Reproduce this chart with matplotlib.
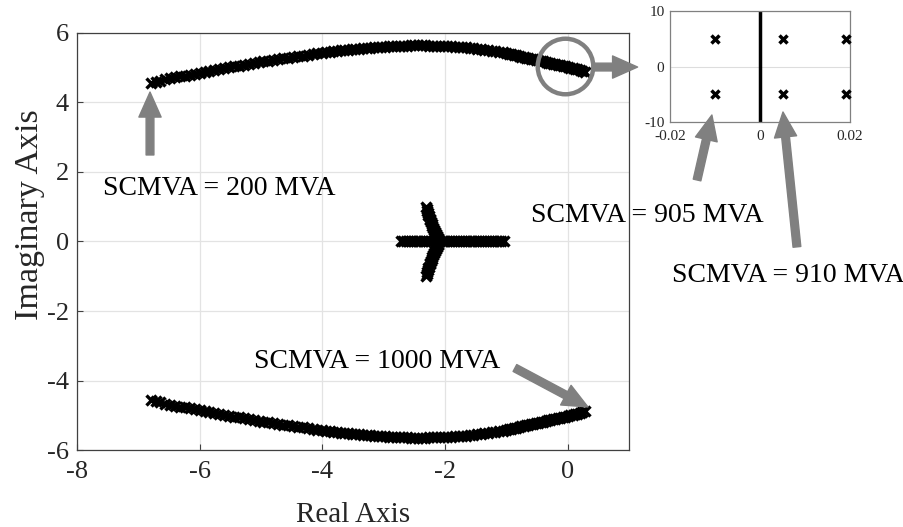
import matplotlib
matplotlib.use("Agg")
import matplotlib.pyplot as plt

plt.rcParams['font.family'] = ['Liberation Serif', 'DejaVu Serif']
plt.rcParams['axes.unicode_minus'] = False

# Dominant pole pair (upper branch; the lower branch is its conjugate)
upper_real = [
    -6.80, -6.72, -6.64, -6.56, -6.48, -6.40, -6.32, -6.24, -6.16, -6.08,
    -6.00, -5.92, -5.84, -5.76, -5.68, -5.60, -5.52, -5.44, -5.36, -5.28,
    -5.20, -5.12, -5.04, -4.96, -4.88, -4.80, -4.72, -4.64, -4.56, -4.48,
    -4.40, -4.32, -4.24, -4.16, -4.08,
    -4.00, -3.94, -3.88, -3.82, -3.76, -3.70, -3.64, -3.58, -3.52, -3.46,
    -3.40, -3.34, -3.28, -3.22, -3.16, -3.10, -3.04, -2.98, -2.92, -2.86,
    -2.80, -2.74, -2.68, -2.62, -2.56, -2.50, -2.44, -2.38, -2.32, -2.26,
    -2.20, -2.14, -2.08, -2.02, -1.96, -1.90, -1.84, -1.78, -1.72, -1.66,
    -1.60, -1.54, -1.48, -1.42, -1.36, -1.30, -1.24, -1.18, -1.12, -1.06,
    -1.00, -0.96, -0.92, -0.88, -0.84, -0.80, -0.76, -0.72, -0.68, -0.64,
    -0.60, -0.56, -0.52, -0.48, -0.44, -0.40, -0.36, -0.32, -0.28, -0.24,
    -0.20, -0.16, -0.12, -0.08, -0.04, 0.00, 0.04, 0.08, 0.12, 0.16,
    0.20, 0.24, 0.28,
]
upper_imag = [
    4.57, 4.60, 4.63, 4.67, 4.70, 4.72, 4.75, 4.77, 4.80, 4.83,
    4.86, 4.89, 4.91, 4.94, 4.96, 4.99, 5.01, 5.04, 5.06, 5.09,
    5.11, 5.13, 5.16, 5.18, 5.20, 5.23, 5.25, 5.27, 5.29, 5.31,
    5.33, 5.35, 5.37, 5.39, 5.41,
    5.43, 5.44, 5.46, 5.47, 5.49, 5.50, 5.51, 5.52, 5.54, 5.55,
    5.55, 5.56, 5.57, 5.58, 5.59, 5.60, 5.60, 5.61, 5.62, 5.62,
    5.63, 5.63, 5.64, 5.64, 5.65, 5.65, 5.65, 5.65, 5.65, 5.64,
    5.64, 5.64, 5.64, 5.64, 5.63, 5.62, 5.61, 5.60, 5.60, 5.59,
    5.58, 5.57, 5.55, 5.54, 5.52, 5.50, 5.49, 5.47, 5.45, 5.44,
    5.42, 5.40, 5.39, 5.37, 5.36, 5.34, 5.32, 5.31, 5.29, 5.28,
    5.26, 5.24, 5.23, 5.21, 5.20, 5.18, 5.16, 5.15, 5.13, 5.12,
    5.10, 5.08, 5.07, 5.05, 5.04, 5.02, 5.00, 4.98, 4.96, 4.95,
    4.93, 4.91, 4.89,
]

# Real-axis poles
axis_real = [
    -2.72, -2.68, -2.64, -2.60, -2.56, -2.52, -2.48, -2.44, -2.40, -2.36,
    -2.32, -2.28, -2.24, -2.20, -2.16, -2.12, -2.08, -2.04, -2.00, -1.96,
    -1.92, -1.88, -1.84, -1.80, -1.76, -1.72, -1.68, -1.64, -1.60, -1.56,
    -1.52, -1.48, -1.44, -1.40, -1.36, -1.32, -1.28, -1.24, -1.20, -1.16,
    -1.12, -1.08, -1.04,
]
axis_imag = [0.0] * len(axis_real)

# Small complex branch near -2.2 (upper half; lower half is its conjugate)
branch_real = [-2.31, -2.30, -2.29, -2.28, -2.27, -2.26, -2.25, -2.24, -2.23,
               -2.22, -2.21, -2.20, -2.18, -2.16, -2.15, -2.13, -2.12, -2.11]
branch_imag = [0.99, 0.94, 0.88, 0.83, 0.77, 0.72, 0.66, 0.61, 0.55,
               0.50, 0.44, 0.39, 0.33, 0.28, 0.22, 0.17, 0.11, 0.06]

# Zoomed view of the imaginary-axis crossing
zoom_real = [-0.010, 0.005, 0.019]
zoom_imag = [5.0, 5.0, 5.0]

x_ticks = [-8, -6, -4, -2, 0]
y_ticks = [-6, -4, -2, 0, 2, 4, 6]
zoom_x_ticks = [-0.02, 0, 0.02]
zoom_x_labels = ['-0.02', '0', '0.02']
zoom_y_ticks = [-10, 0, 10]

GRAY = '#808080'
FRAME = '#404040'
TEXT = '#262626'

fig = plt.figure(figsize=(9.04, 5.27), dpi=100)
ax = fig.add_axes([0.0852, 0.1461, 0.6106, 0.7913])

mk = dict(linestyle='none', marker='x', color='black', markersize=7,
          markeredgewidth=2.4, zorder=3)
ax.plot(upper_real, upper_imag, **mk)
ax.plot(upper_real, [-v for v in upper_imag], **mk)
ax.plot(axis_real, axis_imag, **mk)
ax.plot(branch_real, branch_imag, **mk)
ax.plot(branch_real, [-v for v in branch_imag], **mk)

ax.set_xlim(-8, 1)
ax.set_ylim(-6, 6)
ax.set_xticks(x_ticks)
ax.set_xticklabels([str(t) for t in x_ticks])
ax.set_yticks(y_ticks)
ax.set_yticklabels([str(t) for t in y_ticks])
ax.grid(True, color='#e3e3e3', linewidth=0.9)
ax.set_axisbelow(True)
ax.tick_params(direction='in', length=4, width=0.8, labelsize=19,
               colors=FRAME, labelcolor=TEXT)
ax.tick_params(axis='x', pad=8)
ax.tick_params(axis='y', pad=6)
for s in ax.spines.values():
    s.set_color(FRAME)
    s.set_linewidth(0.9)
ax.set_xlabel('Real Axis', fontsize=21, color=TEXT)
ax.set_ylabel('Imaginary Axis', fontsize=24.5, color=TEXT)
ax.xaxis.set_label_coords(0.5, -0.125)
ax.yaxis.set_label_coords(-0.058, 0.564)

arrow = dict(arrowstyle='simple,head_length=0.9,head_width=0.8,tail_width=0.28',
             mutation_scale=20, color=GRAY, shrinkA=0, shrinkB=0)

# SCMVA = 200 MVA
ax.annotate('', xy=(-6.81, 4.30), xytext=(-6.81, 2.49), arrowprops=arrow)
ax.text(-7.58, 1.34, 'SCMVA = 200 MVA', fontsize=20, va='baseline', ha='left')

# SCMVA = 1000 MVA
ax.annotate('', xy=(0.33, -4.76), xytext=(-0.86, -3.64), arrowprops=arrow)
ax.text(-1.10, -3.65, 'SCMVA = 1000 MVA', fontsize=20, va='baseline', ha='right')

# SCMVA = 905 MVA
ax.text(-0.59, 0.56, 'SCMVA = 905 MVA', fontsize=20, va='baseline', ha='left')
# SCMVA = 910 MVA
ax.text(1.70, -1.17, 'SCMVA = 910 MVA', fontsize=20, va='baseline', ha='left',
        clip_on=False)

# Circle around the crossing and pointer to the zoomed view
ax.plot([-0.05], [5.05], linestyle='none', marker='o', markersize=40,
        markerfacecolor='none', markeredgecolor=GRAY, markeredgewidth=3.2,
        zorder=4, clip_on=False)
ax.annotate('', xy=(1.14, 5.02), xytext=(0.41, 5.02), arrowprops=arrow,
            annotation_clip=False)

# Inset
axi = fig.add_axes([0.7412, 0.7685, 0.1991, 0.2106])
axi.axvline(0, color='black', linewidth=2.5, zorder=2)
mk_in = dict(linestyle='none', marker='x', color='black', markersize=5.5,
             markeredgewidth=2.5, zorder=3, clip_on=False)
axi.plot(zoom_real, zoom_imag, **mk_in)
axi.plot(zoom_real, [-v for v in zoom_imag], **mk_in)
axi.set_xlim(-0.02, 0.02)
axi.set_ylim(-10, 10)
axi.set_xticks(zoom_x_ticks)
axi.set_xticklabels(zoom_x_labels)
axi.set_yticks(zoom_y_ticks)
axi.set_yticklabels([str(t) for t in zoom_y_ticks])
axi.grid(True, color='#dddddd', linewidth=0.8)
axi.set_axisbelow(True)
axi.tick_params(direction='in', length=0, labelsize=11, labelcolor=TEXT)
axi.tick_params(axis='x', pad=6)
axi.tick_params(axis='y', pad=4)
for s in axi.spines.values():
    s.set_color(GRAY)
    s.set_linewidth(0.9)

axi.annotate('', xy=(-0.0107, -8.74), xytext=(-0.014, -20.45), arrowprops=arrow,
             annotation_clip=False)
axi.annotate('', xy=(0.0051, -8.2), xytext=(0.0082, -32.5), arrowprops=arrow,
             annotation_clip=False)

fig.savefig('out.png', dpi=100)
